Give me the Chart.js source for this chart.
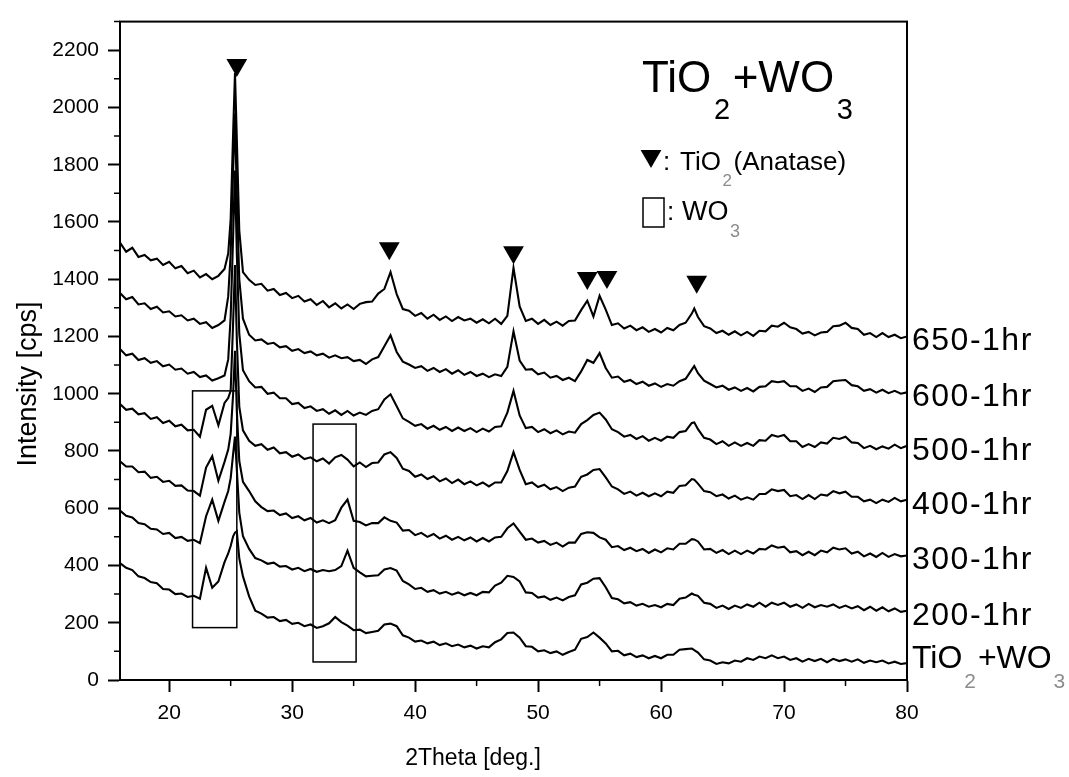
<!DOCTYPE html>
<html>
<head>
<meta charset="utf-8">
<title>TiO2+WO3 XRD</title>
<script src="https://cdn.jsdelivr.net/npm/chart.js@4.4.0/dist/chart.umd.min.js"></script>
<style>
  html, body { margin: 0; padding: 0; background: #fff; }
  #wrap { width: 1069px; height: 777px; }
</style>
</head>
<body>
<div id="wrap"><canvas id="xrd" width="1069" height="777"></canvas></div>
<script>
// 2theta positions (deg.), finer around the main anatase peak
let theta = [
  16, 16.5, 17, 17.5, 18, 18.5, 19, 19.5, 20, 20.5,
  21, 21.5, 22, 22.5, 23, 23.5, 24, 24.5,
  24.8, 25, 25.2, 25.35, 25.5, 25.7, 26,
  26.5, 27, 27.5, 28, 28.5, 29, 29.5, 30, 30.5, 31,
  31.5, 32, 32.5, 33, 33.5, 34, 34.5, 35, 35.5, 36,
  36.5, 37, 37.5, 38, 38.5, 39, 39.5, 40, 40.5, 41,
  41.5, 42, 42.5, 43, 43.5, 44, 44.5, 45, 45.5, 46,
  46.5, 47, 47.5, 48, 48.5, 49, 49.5, 50, 50.5, 51,
  51.5, 52, 52.5, 53, 53.5, 54, 54.5, 55, 55.5, 56,
  56.5, 57, 57.5, 58, 58.5, 59, 59.5, 60, 60.5, 61,
  61.5, 62, 62.5, 62.7, 63, 63.5, 64, 64.5, 65, 65.5,
  66, 66.5, 67, 67.5, 68, 68.5, 69, 69.5, 70, 70.5,
  71, 71.5, 72, 72.5, 73, 73.5, 74, 74.5, 75, 75.5,
  76, 76.5, 77, 77.5, 78, 78.5, 79, 79.5, 80
];

// intensities (cps), as stacked in the figure
let cps650 = [
  1528, 1496, 1510, 1478, 1485, 1466, 1472, 1450, 1461, 1438,
  1446, 1421, 1430, 1406, 1418, 1400, 1412, 1436,
  1490, 1610, 1910, 2120, 1890, 1570, 1425,
  1398, 1380, 1384, 1360, 1366, 1345, 1352, 1334, 1342, 1322,
  1330, 1310, 1324, 1302, 1316, 1298, 1312, 1296, 1314, 1320,
  1322, 1350, 1366, 1425, 1348, 1296, 1290, 1272, 1282, 1262,
  1276, 1258, 1270, 1254, 1268, 1256, 1262, 1248, 1260, 1246,
  1262, 1244, 1272, 1440, 1305, 1254, 1262, 1244, 1258, 1240,
  1252, 1238, 1254, 1256, 1292, 1325, 1270, 1342, 1294, 1240,
  1246, 1228, 1238, 1222, 1232, 1216, 1226, 1214, 1230, 1222,
  1240, 1248, 1280, 1298, 1268, 1236, 1228, 1212, 1220, 1206,
  1218, 1204, 1216, 1202, 1220, 1218, 1238, 1234, 1248, 1232,
  1226, 1210, 1216, 1204, 1214, 1216, 1236, 1238, 1248, 1230,
  1226, 1206, 1212, 1198, 1212, 1198, 1206, 1194, 1200
];
let cps600 = [
  1352, 1330, 1338, 1312, 1316, 1296, 1304, 1284, 1288, 1270,
  1274, 1256, 1262, 1244, 1250, 1230, 1240, 1256,
  1340, 1490, 1780, 1980, 1690, 1400, 1262,
  1206, 1186, 1190, 1174, 1178, 1162, 1166, 1150, 1156, 1142,
  1148, 1134, 1140, 1126, 1134, 1124, 1128, 1114, 1118, 1104,
  1120, 1128, 1166, 1204, 1146, 1112, 1102, 1090, 1096, 1080,
  1090, 1076, 1086, 1070, 1082, 1066, 1076, 1062, 1070, 1058,
  1068, 1062, 1094, 1218, 1116, 1084, 1086, 1068, 1074, 1056,
  1062, 1048, 1056, 1044, 1078, 1118, 1108, 1142, 1090, 1056,
  1060, 1042, 1048, 1034, 1042, 1028, 1036, 1024, 1034, 1028,
  1044, 1052, 1084, 1097, 1072, 1046, 1034, 1022, 1028, 1014,
  1022, 1010, 1020, 1008, 1024, 1026, 1044, 1040, 1044, 1026,
  1026, 1010, 1018, 1006, 1022, 1024, 1044, 1046, 1048, 1030,
  1026, 1010, 1016, 1004, 1014, 1002, 1010, 1000, 1005
];
let cps500 = [
  1156, 1134, 1140, 1118, 1124, 1108, 1114, 1096, 1102, 1084,
  1088, 1070, 1076, 1058, 1064, 1046, 1054, 1064,
  1120, 1270, 1550, 1780, 1490, 1210, 1082,
  1044, 1022, 1024, 1000, 1004, 984, 984, 964, 968, 950,
  956, 940, 946, 930, 942, 926, 940, 924, 934, 926,
  940, 946, 980, 998, 956, 914, 902, 888, 894, 878,
  888, 874, 884, 870, 882, 870, 880, 866, 878, 868,
  884, 886, 934, 1010, 924, 880, 884, 866, 876, 862,
  872, 858, 868, 864, 894, 908, 926, 934, 910, 876,
  866, 850, 856, 842, 852, 836, 846, 836, 850, 846,
  866, 870, 898, 900, 876, 846, 840, 824, 834, 818,
  830, 818, 828, 818, 838, 836, 856, 850, 856, 834,
  834, 814, 824, 814, 830, 826, 846, 842, 850, 830,
  828, 810, 818, 806, 816, 808, 822, 810, 818
];
let cps400 = [
  964, 944, 948, 928, 932, 912, 918, 898, 906, 886,
  892, 872, 874, 850, 944, 958, 890, 968,
  985, 1010, 1250, 1450, 1190, 955, 872,
  836, 818, 824, 804, 812, 792, 796, 780, 788, 772,
  778, 764, 774, 756, 778, 786, 770, 746, 760, 744,
  758, 760, 788, 796, 776, 738, 730, 710, 718, 702,
  712, 694, 704, 688, 700, 684, 694, 680, 690, 676,
  690, 690, 730, 796, 734, 684, 690, 674, 682, 666,
  674, 660, 672, 676, 710, 718, 734, 737, 708, 676,
  666, 650, 658, 644, 654, 642, 652, 642, 658, 654,
  678, 680, 702, 700, 686, 660, 656, 642, 648, 634,
  644, 630, 638, 630, 650, 650, 666, 660, 664, 642,
  646, 632, 646, 632, 648, 644, 660, 652, 658, 640,
  640, 624, 630, 618, 630, 622, 636, 624, 630
];
let cps300 = [
  764, 746, 746, 726, 728, 706, 710, 692, 696, 678,
  680, 662, 660, 644, 742, 782, 696, 762,
  805, 860, 1000, 1150, 940, 765, 692,
  660, 624, 604, 590, 592, 576, 582, 566, 572, 558,
  566, 550, 558, 548, 558, 602, 630, 556, 552, 540,
  548, 548, 568, 556, 550, 522, 524, 506, 514, 500,
  510, 494, 504, 490, 500, 488, 498, 484, 496, 484,
  498, 500, 530, 547, 518, 490, 494, 480, 486, 472,
  480, 466, 480, 480, 510, 516, 514, 498, 490, 464,
  468, 454, 462, 450, 458, 444, 456, 446, 460, 456,
  476, 476, 492, 491, 484, 456, 458, 444, 454, 440,
  452, 440, 452, 442, 458, 456, 470, 462, 466, 446,
  450, 436, 448, 436, 452, 446, 462, 456, 460, 442,
  448, 432, 442, 430, 444, 430, 440, 432, 435
];
let cps200 = [
  592, 574, 568, 548, 544, 528, 526, 510, 514, 496,
  500, 486, 490, 478, 572, 630, 556, 622,
  660, 705, 790, 850, 735, 585, 502,
  458, 426, 418, 406, 410, 396, 398, 386, 392, 380,
  388, 378, 384, 380, 384, 398, 452, 392, 376, 362,
  364, 366, 386, 391, 382, 346, 334, 318, 322, 308,
  314, 302, 308, 298, 306, 296, 304, 296, 308, 306,
  330, 340, 364, 360, 344, 306, 304, 288, 292, 280,
  288, 278, 290, 296, 334, 340, 354, 356, 324, 286,
  282, 268, 272, 260, 266, 256, 262, 254, 266, 262,
  284, 288, 302, 298, 294, 270, 266, 252, 260, 248,
  260, 252, 264, 256, 270, 256, 270, 262, 270, 256,
  264, 252, 266, 254, 262, 256, 264, 252, 260, 250,
  258, 244, 256, 242, 254, 240, 250, 238, 242
];
let cpsMix = [
  408, 392, 384, 362, 356, 342, 338, 318, 316, 300,
  302, 290, 294, 284, 392, 322, 344, 412,
  442, 468, 502, 515, 520, 425, 362,
  292, 242, 232, 218, 220, 206, 210, 196, 200, 188,
  194, 182, 188, 198, 220, 202, 190, 174, 176, 164,
  168, 172, 194, 197, 188, 156, 148, 134, 138, 128,
  134, 122, 128, 118, 124, 114, 120, 110, 118, 114,
  132, 142, 164, 166, 148, 118, 116, 100, 104, 94,
  100, 88, 98, 106, 144, 150, 166, 148, 128, 100,
  102, 86, 92, 80, 86, 76, 84, 76, 88, 88,
  106, 108, 110, 104, 96, 72, 68, 56, 62, 58,
  68, 64, 76, 70, 82, 76, 86, 76, 82, 70,
  76, 64, 74, 66, 74, 62, 74, 66, 72, 64,
  72, 60, 68, 62, 68, 58, 64, 56, 59
];

// labels at the right end of each trace ([text, isSubscript])
let seriesLabels = [
  [['650-1hr', 0]],
  [['600-1hr', 0]],
  [['500-1hr', 0]],
  [['400-1hr', 0]],
  [['300-1hr', 0]],
  [['200-1hr', 0]],
  [['TiO', 0], ['2', 1], ['+WO', 0], ['3', 1]]
];

let xTicks = [20, 30, 40, 50, 60, 70, 80];
let yTicks = [0, 200, 400, 600, 800, 1000, 1200, 1400, 1600, 1800, 2000, 2200];

// anatase reflections marked with a down triangle
let peakTheta = [25.5, 37.9, 48.0, 54.0, 55.6, 62.9];
let peakCps = [2148, 1508, 1494, 1404, 1408, 1391];

// WO3 regions: [theta from, theta to, cps from, cps to]
let wo3Boxes = [[21.9, 25.5, 183, 1010], [31.7, 35.2, 63, 894]];

const FONT = '"Liberation Sans", Arial, Helvetica, sans-serif';
const SUB_GRAY = '#8c8c8c';

let allSeries = [cps650, cps600, cps500, cps400, cps300, cps200, cpsMix];

function drawRich(ctx, parts, x, y, size, subColor, spacing) {
  for (const [text, sub] of parts) {
    const s = sub ? Math.round(size * 0.66) : size;
    ctx.font = s + 'px ' + FONT;
    ctx.fillStyle = sub ? subColor : '#000';
    ctx.letterSpacing = (spacing || 0) + 'px';
    if (sub) x += size * 0.06;
    ctx.fillText(text, x, sub ? y + size * 0.62 : y);
    x += ctx.measureText(text).width + (sub ? size * 0.06 : 0);
  }
  ctx.letterSpacing = '0px';
}

const decor = {
  id: 'decor',
  afterDraw(chart) {
    const {ctx, chartArea: a, scales: {x, y}} = chart;
    ctx.save();
    ctx.strokeStyle = '#000';
    ctx.lineWidth = 2;
    ctx.strokeRect(a.left, a.top, a.right - a.left, a.bottom - a.top);

    // minor ticks halfway between the labelled ones
    ctx.lineWidth = 1.5;
    ctx.beginPath();
    xTicks.slice(0, -1).forEach((v, i) => {
      const px = x.getPixelForValue((v + xTicks[i + 1]) / 2);
      ctx.moveTo(px, a.bottom); ctx.lineTo(px, a.bottom + 6);
    });
    yTicks.forEach(v => {
      const py = y.getPixelForValue(v + 100);
      if (py < a.top) return;
      ctx.moveTo(a.left, py); ctx.lineTo(a.left - 6, py);
    });
    ctx.stroke();

    // WO3 boxes
    wo3Boxes.forEach(([x0, x1, y0, y1]) => {
      const l = x.getPixelForValue(x0), r = x.getPixelForValue(x1);
      const t = y.getPixelForValue(y1), b = y.getPixelForValue(y0);
      ctx.strokeRect(l, t, r - l, b - t);
    });

    ctx.textAlign = 'left';
    ctx.textBaseline = 'alphabetic';

    // title block
    drawRich(ctx, [['TiO', 0], ['2', 1], ['+WO', 0], ['3', 1]], 642, 92, 44, '#000');
    ctx.fillStyle = '#000';
    Chart.helpers.drawPoint(ctx, {pointStyle: 'triangle', rotation: 180, radius: 12, borderWidth: 0}, 651, 156);
    drawRich(ctx, [[':', 0]], 663, 170, 26, SUB_GRAY);
    drawRich(ctx, [['TiO', 0], ['2', 1], ['(Anatase)', 0]], 680, 170, 26, SUB_GRAY);
    ctx.lineWidth = 1.5;
    ctx.strokeRect(643, 198, 21, 29);
    drawRich(ctx, [[':', 0]], 667, 220, 26, SUB_GRAY);
    drawRich(ctx, [['WO', 0], ['3', 1]], 682, 220, 27, SUB_GRAY);

    // trace labels
    allSeries.forEach((s, i) => {
      const py = y.getPixelForValue(s[s.length - 1]) + 14 + (i === 6 ? -9 : 0);
      drawRich(ctx, seriesLabels[i], a.right + 5, py, 32, SUB_GRAY, seriesLabels[i].length === 1 ? 1.5 : 0);
    });

    // axis titles
    ctx.fillStyle = '#000';
    ctx.font = '23px ' + FONT;
    ctx.textAlign = 'center';
    ctx.fillText('2Theta [deg.]', 473, 765);
    ctx.translate(36, 384);
    ctx.rotate(-Math.PI / 2);
    ctx.font = '27px ' + FONT;
    ctx.fillText('Intensity [cps]', 0, 0);
    ctx.restore();
  }
};

let datasets = allSeries.map(s => ({
  type: 'line',
  data: s.map((v, i) => ({x: theta[i], y: v})),
  borderColor: '#000',
  borderWidth: 2.1,
  pointRadius: 0,
  tension: 0,
  fill: false
}));

datasets.push({
  type: 'scatter',
  data: peakTheta.map((t, i) => ({x: t, y: peakCps[i]})),
  pointStyle: 'triangle',
  rotation: 180,
  radius: 12,
  backgroundColor: '#000',
  borderWidth: 0,
  clip: false
});

let tickFont = {family: FONT, size: 21};

new Chart(document.getElementById('xrd').getContext('2d'), {
  type: 'line',
  data: {datasets: datasets},
  options: {
    responsive: false,
    animation: false,
    devicePixelRatio: 1,
    layout: {padding: {top: 15, right: 162, left: 0, bottom: 0}},
    plugins: {legend: {display: false}, tooltip: {enabled: false}},
    scales: {
      x: {
        type: 'linear',
        min: 16,
        max: 80,
        afterBuildTicks: s => { s.ticks = xTicks.map(v => ({value: v})); },
        afterFit: s => { s.height = 97; },
        ticks: {callback: v => String(v), font: tickFont, color: '#000', padding: 9, maxRotation: 0, autoSkip: false},
        grid: {drawOnChartArea: false, drawTicks: true, tickLength: 12, tickWidth: 2, tickColor: '#000'},
        border: {display: true, color: '#000', width: 2}
      },
      y: {
        type: 'linear',
        min: 0,
        max: 2300,
        afterBuildTicks: s => { s.ticks = yTicks.map(v => ({value: v})); },
        afterFit: s => { s.width = 120; },
        ticks: {callback: v => String(v), font: tickFont, color: '#000', padding: 9, autoSkip: false},
        grid: {drawOnChartArea: false, drawTicks: true, tickLength: 12, tickWidth: 2, tickColor: '#000'},
        border: {display: true, color: '#000', width: 2}
      }
    }
  },
  plugins: [decor]
});
</script>
</body>
</html>
